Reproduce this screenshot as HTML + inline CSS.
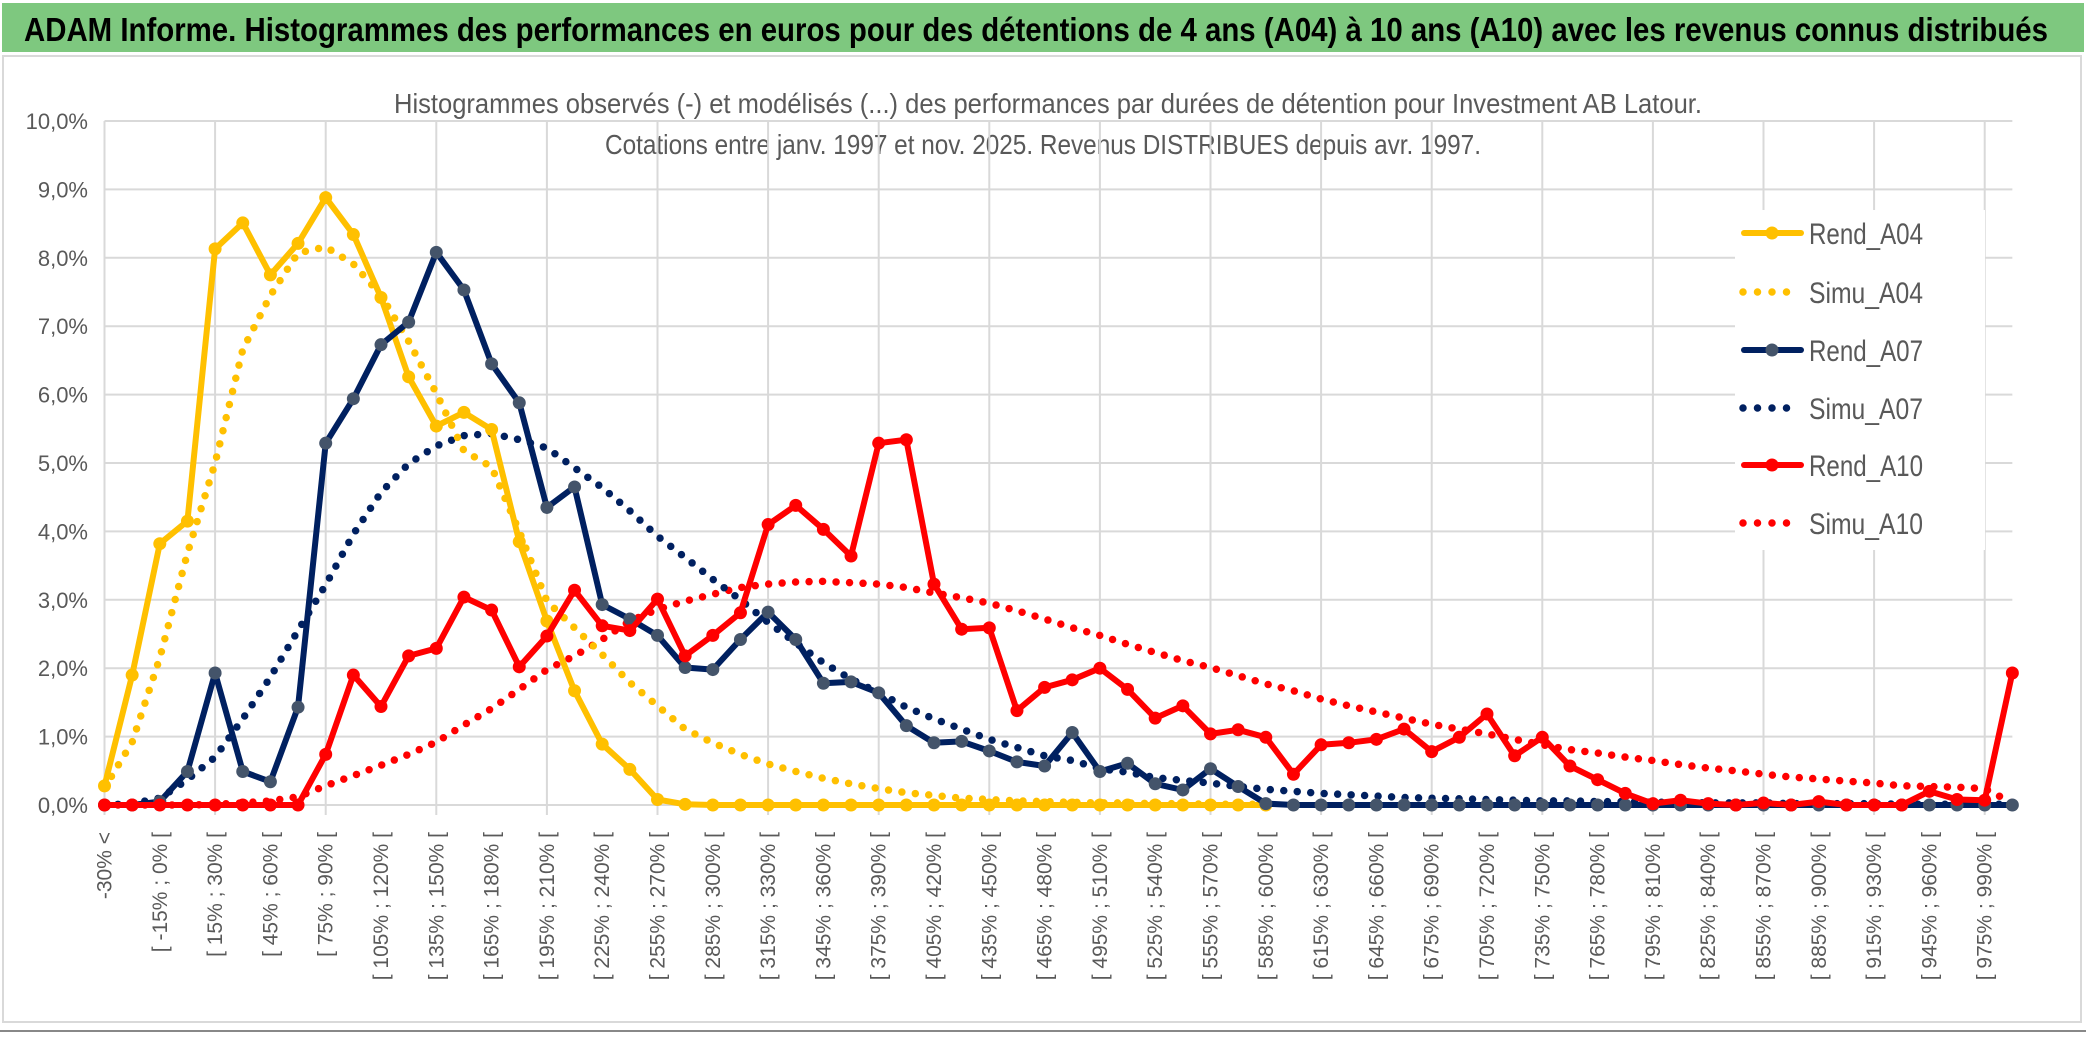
<!DOCTYPE html>
<html><head><meta charset="utf-8">
<style>
html,body{margin:0;padding:0;background:#fff;}
body{width:2086px;height:1033px;overflow:hidden;position:relative;font-family:"Liberation Sans",sans-serif;}
svg text{font-family:"Liberation Sans",sans-serif;}
</style></head>
<body>
<svg id="chart" width="2086" height="1033" viewBox="0 0 2086 1033" xmlns="http://www.w3.org/2000/svg">
  <rect x="2" y="3" width="2082" height="49" fill="#7ec87f"/>
  <text x="24" y="41" font-size="33" font-weight="bold" fill="#000" textLength="2024" lengthAdjust="spacingAndGlyphs">ADAM Informe. Histogrammes des performances en euros pour des détentions de 4 ans (A04) à 10 ans (A10) avec les revenus connus distribués</text>
  <rect x="3" y="56" width="2078" height="966" fill="none" stroke="#d9d9d9" stroke-width="2"/>
  <line x1="0" y1="1031" x2="2086" y2="1031" stroke="#888" stroke-width="2"/>
  <text x="1048" y="113" font-size="28" fill="#595959" text-anchor="middle" textLength="1308" lengthAdjust="spacingAndGlyphs">Histogrammes observés (-) et modélisés (...) des performances par durées de détention pour Investment AB Latour.</text>
  <text x="1043" y="154" font-size="28" fill="#595959" text-anchor="middle" textLength="876" lengthAdjust="spacingAndGlyphs">Cotations entre janv. 1997 et nov. 2025. Revenus DISTRIBUES depuis avr. 1997.</text>
  <g id="grid"></g>
  <g id="yaxis"></g>
  <g id="xaxis"></g>
  <g id="series"></g>
  <g id="legend"></g>
</svg>
<script>
const categories = ["-30% <"];
for (let v = -30; v < 1005; v += 15) categories.push("[ " + v + "% ; " + (v + 15) + "% [");
const yTicks = [0,1,2,3,4,5,6,7,8,9,10];
const yTickLabels = ["0,0%","1,0%","2,0%","3,0%","4,0%","5,0%","6,0%","7,0%","8,0%","9,0%","10,0%"];

const rendA04 = [0.28,1.90,3.82,4.15,8.13,8.51,7.75,8.21,8.88,8.34,7.42,6.26,5.54,5.74,5.49,3.85,2.69,1.67,0.89,0.52,0.08,0.01,0,0,0,0,0,0,0,0,0,0,0,0,0,0,0,0,0,0,0,0,0];
const simuA04 = [0.25,0.92,2.15,3.68,5.0,6.66,7.45,8.07,8.16,7.91,7.45,6.78,6.02,5.18,4.94,4.0,2.98,2.59,2.2,1.79,1.45,1.11,0.91,0.74,0.6,0.49,0.39,0.31,0.24,0.18,0.14,0.1,0.08,0.06,0.05,0.04,0.03,0.03,0.02,0.02,0.01,0.01,0.01];
const rendA07 = [0,0,0.05,0.49,1.93,0.49,0.34,1.43,5.29,5.94,6.73,7.06,8.08,7.53,6.45,5.88,4.35,4.65,2.93,2.72,2.48,2.01,1.98,2.42,2.82,2.42,1.78,1.8,1.64,1.16,0.91,0.93,0.79,0.63,0.57,1.06,0.49,0.61,0.31,0.22,0.53,0.27,0.02,0,0,0,0,0,0,0,0,0,0,0,0,0,0,0,0,0,0,0,0,0,0,0,0,0,0,0];
const simuA07 = [0,0.02,0.1,0.37,0.7,1.26,1.87,2.55,3.22,3.96,4.57,4.99,5.25,5.4,5.43,5.34,5.22,4.93,4.64,4.3,3.93,3.62,3.3,3.0,2.67,2.37,2.08,1.84,1.64,1.43,1.26,1.11,0.96,0.84,0.72,0.65,0.53,0.48,0.4,0.36,0.32,0.27,0.23,0.2,0.17,0.15,0.13,0.11,0.1,0.09,0.08,0.07,0.06,0.06,0.05,0.05,0.04,0.04,0.03,0.03,0.03,0.02,0.02,0.02,0.02,0.01,0.01,0.01,0.01,0.01];
const rendA10 = [0,0,0,0,0,0,0,0,0.74,1.90,1.44,2.18,2.29,3.04,2.85,2.02,2.47,3.14,2.62,2.55,3.01,2.18,2.48,2.81,4.1,4.38,4.03,3.64,5.29,5.34,3.23,2.57,2.59,1.38,1.72,1.83,2.0,1.69,1.27,1.45,1.04,1.1,0.99,0.45,0.88,0.91,0.96,1.11,0.78,0.99,1.33,0.72,0.99,0.57,0.37,0.17,0.02,0.07,0.02,0,0.03,0,0.05,0,0,0,0.2,0.08,0.07,1.93];
const simuA10 = [0,0,0,0,0.01,0.03,0.06,0.12,0.28,0.43,0.58,0.74,0.92,1.17,1.41,1.69,1.98,2.18,2.42,2.69,2.86,2.98,3.08,3.18,3.23,3.26,3.27,3.25,3.23,3.18,3.1,3.03,2.95,2.84,2.72,2.59,2.48,2.35,2.23,2.11,2.01,1.89,1.77,1.67,1.55,1.45,1.36,1.27,1.18,1.11,1.04,0.96,0.88,0.81,0.76,0.7,0.65,0.59,0.54,0.5,0.45,0.41,0.38,0.35,0.32,0.28,0.27,0.26,0.24,0.03];

const NS = "http://www.w3.org/2000/svg";
const X0 = 104.5, DX = 27.65, Y0 = 805, DY = 68.4;
function xPos(i){ return X0 + i * DX; }
function yPos(v){ return Y0 - v * DY; }
function mk(tag, attrs, parent){
  const e = document.createElementNS(NS, tag);
  for (const k in attrs) e.setAttribute(k, attrs[k]);
  parent.appendChild(e);
  return e;
}
const grid = document.getElementById('grid');
const xEnd = xPos(categories.length - 1);
yTicks.forEach((t) => {
  const l = mk('line', {x1: X0, x2: xEnd, y1: yPos(t), y2: yPos(t), stroke: '#d9d9d9', 'stroke-width': 2}, grid);
  
  
});
for (let i = 0; i < categories.length; i += 4) {
  const l = mk('line', {x1: xPos(i), x2: xPos(i), y1: yPos(10), y2: Y0 + 10, stroke: '#d9d9d9', 'stroke-width': 2}, grid);
  
  
}
const yaxis = document.getElementById('yaxis');
yTicks.forEach((t, k) => {
  const tx = mk('text', {x: 88, y: yPos(t) + 8, 'font-size': 22, fill: '#595959', 'text-anchor': 'end'}, yaxis);
  tx.textContent = yTickLabels[k];
  
  
});
const xaxis = document.getElementById('xaxis');
for (let i = 0; i < categories.length - 1; i += 2) {
  const x = xPos(i) + 7, y = 832;
  const tx = mk('text', {x: x, y: y, 'font-size': 21, fill: '#595959', 'text-anchor': 'end', transform: 'rotate(-90 ' + x + ' ' + y + ')'}, xaxis);
  tx.textContent = categories[i];
  
  
}
const series = document.getElementById('series');
function pts(arr){ return arr.map((v, i) => xPos(i).toFixed(1) + ',' + yPos(v).toFixed(1)).join(' '); }
function dotted(arr, color, name){
  const p = mk('polyline', {points: pts(arr), fill: 'none', stroke: color, 'stroke-width': 7.5, 'stroke-linecap': 'round', 'stroke-dasharray': '0 13.5'}, series);
  
  
}
function solid(arr, color, mcolor, name){
  const g = mk('g', {}, series);
  
  
  const p = mk('polyline', {points: pts(arr), fill: 'none', stroke: color, 'stroke-width': 6, 'stroke-linejoin': 'round'}, g);
  
  
  arr.forEach((v, i) => {
    const c = mk('circle', {cx: xPos(i), cy: yPos(v), r: 6.5, fill: mcolor}, g);
    
    
  });
}
dotted(simuA10, '#ff0000', 'simu-a10');
dotted(simuA07, '#002060', 'simu-a07');
dotted(simuA04, '#ffc000', 'simu-a04');
solid(rendA04, '#ffc000', '#ffc000', 'rend-a04');
solid(rendA07, '#002060', '#44546a', 'rend-a07');
solid(rendA10, '#ff0000', '#ff0000', 'rend-a10');

const legend = document.getElementById('legend');
mk('rect', {x: 1735, y: 210, width: 250, height: 340, fill: '#fff'}, legend);
const legNames = ['Rend_A04','Simu_A04','Rend_A07','Simu_A07','Rend_A10','Simu_A10'];
const legColors = ['#ffc000','#ffc000','#002060','#002060','#ff0000','#ff0000'];
const legY = [233,292,350,408,465,523];
legNames.forEach((n, k) => {
  const y = legY[k];
  if (k % 2 === 0) {
    const l = mk('line', {x1: 1744, x2: 1801, y1: y, y2: y, stroke: legColors[k], 'stroke-width': 6, 'stroke-linecap': 'round'}, legend);
    
    
    const c = mk('circle', {cx: 1772, cy: y, r: 6.5, fill: k === 2 ? '#44546a' : legColors[k]}, legend);
    
    
  } else {
    const l = mk('line', {x1: 1743, x2: 1801, y1: y, y2: y, stroke: legColors[k], 'stroke-width': 7.5, 'stroke-linecap': 'round', 'stroke-dasharray': '0 14.5'}, legend);
    
    
  }
  const t = mk('text', {x: 1809, y: y + 11, 'font-size': 30, fill: '#595959', textLength: 114, lengthAdjust: 'spacingAndGlyphs'}, legend);
  t.textContent = n;
  
  
});
</script>
</body></html>
